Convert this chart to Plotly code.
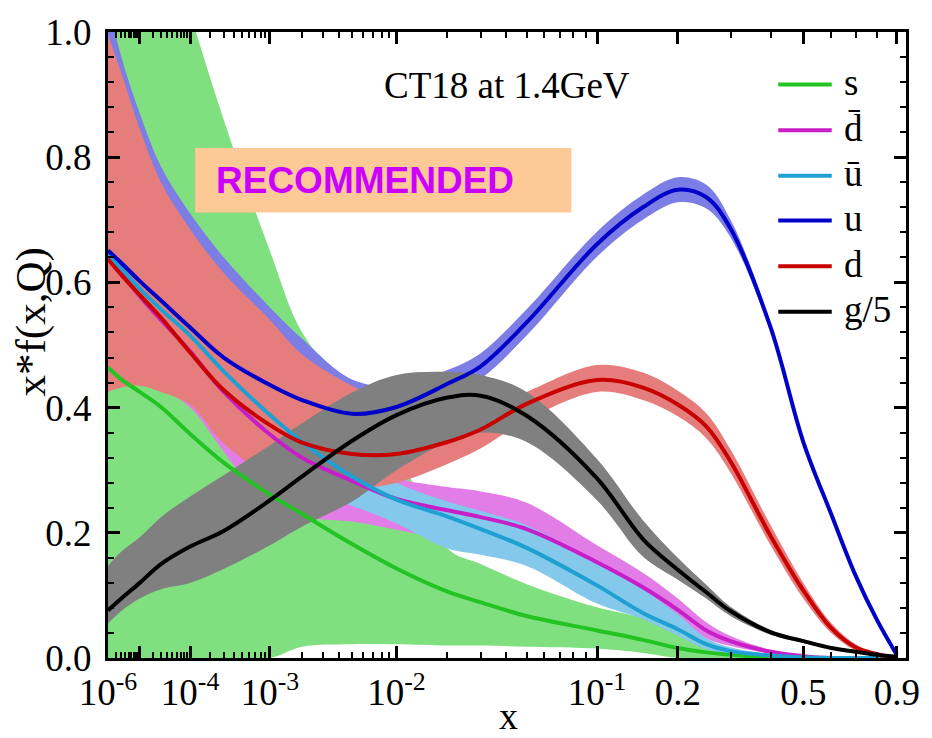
import numpy as np
import plotly.graph_objects as go

# ---------------- data ----------------
x_pts = [1e-6, 3e-6, 1e-5, 3e-5, 1e-4, 3e-4, 1e-3, 2e-3, 5e-3, 1e-2, 2e-2, 3e-2,
         5e-2, 0.1, 0.15, 0.2, 0.25, 0.3, 0.4, 0.5, 0.6, 0.7, 0.8, 0.9]

s_line = [0.464, 0.445, 0.425, 0.401, 0.358, 0.312, 0.261, 0.230, 0.182, 0.143, 0.106, 0.089,
          0.067, 0.044, 0.029, 0.016, 0.009, 0.005, 0.001, 0.0, 0.0, 0.0, 0.0, 0.0]
s_lo = [0.0, 0.0, 0.0, 0.0, 0.0, 0.0, 0.0, 0.018, 0.022, 0.022, 0.020, 0.020,
        0.018, 0.015, 0.008, 0.0, 0.0, 0.0, 0.0, 0.0, 0.0, 0.0, 0.0, 0.0]
s_hi = [1.45, 1.38, 1.29, 1.18, 1.03, 0.86, 0.65, 0.52, 0.42, 0.33, 0.175, 0.15,
        0.118, 0.081, 0.064, 0.045, 0.025, 0.010, 0.002, 0.0, 0.0, 0.0, 0.0, 0.0]

dbar_line = [0.640, 0.615, 0.578, 0.540, 0.490, 0.425, 0.357, 0.320, 0.283, 0.254, 0.236, 0.225,
             0.206, 0.153, 0.113, 0.077, 0.044, 0.027, 0.010, 0.003, 0.0, 0.0, 0.0, 0.0]
dbar_lo = [0.45, 0.45, 0.44, 0.43, 0.40, 0.33, 0.24, 0.225, 0.218, 0.205, 0.19, 0.183,
           0.165, 0.125, 0.091, 0.06, 0.031, 0.019, 0.007, 0.002, 0.0, 0.0, 0.0, 0.0]
dbar_hi = [0.70, 0.67, 0.63, 0.59, 0.54, 0.47, 0.40, 0.36, 0.315, 0.287, 0.273, 0.266,
           0.248, 0.18, 0.136, 0.095, 0.057, 0.035, 0.013, 0.004, 0.0, 0.0, 0.0, 0.0]

ubar_line = [0.645, 0.622, 0.590, 0.557, 0.515, 0.458, 0.388, 0.345, 0.290, 0.253, 0.226, 0.206,
             0.176, 0.116, 0.072, 0.046, 0.022, 0.011, 0.004, 0.001, 0.0, 0.0, 0.0, 0.0]
ubar_lo = [0.45, 0.45, 0.44, 0.43, 0.41, 0.36, 0.30, 0.27, 0.243, 0.215, 0.175, 0.165,
           0.147, 0.087, 0.062, 0.036, 0.014, 0.006, 0.002, 0.0, 0.0, 0.0, 0.0, 0.0]
ubar_hi = [0.69, 0.665, 0.63, 0.60, 0.555, 0.49, 0.42, 0.375, 0.32, 0.28, 0.25, 0.235,
           0.212, 0.152, 0.11, 0.07, 0.032, 0.017, 0.006, 0.002, 0.0, 0.0, 0.0, 0.0]

u_line = [0.651, 0.631, 0.602, 0.571, 0.528, 0.480, 0.436, 0.412, 0.390, 0.401, 0.438, 0.466,
          0.536, 0.661, 0.720, 0.748, 0.736, 0.686, 0.528, 0.345, 0.230, 0.132, 0.060, 0.005]
u_lo = [0.50, 0.50, 0.49, 0.47, 0.44, 0.40, 0.37, 0.36, 0.355, 0.375, 0.418, 0.446,
        0.515, 0.641, 0.700, 0.728, 0.718, 0.672, 0.521, 0.34, 0.227, 0.13, 0.059, 0.004]
u_hi = [1.05, 0.96, 0.87, 0.785, 0.71, 0.64, 0.56, 0.51, 0.445, 0.435, 0.46, 0.487,
        0.557, 0.681, 0.740, 0.768, 0.756, 0.70, 0.535, 0.35, 0.233, 0.134, 0.061, 0.006]

d_line = [0.637, 0.612, 0.580, 0.544, 0.488, 0.428, 0.372, 0.344, 0.326, 0.326, 0.345, 0.365,
          0.406, 0.444, 0.432, 0.405, 0.370, 0.314, 0.195, 0.108, 0.048, 0.017, 0.006, 0.0]
d_lo = [0.425, 0.432, 0.435, 0.425, 0.405, 0.343, 0.29, 0.275, 0.27, 0.28, 0.31, 0.335,
        0.38, 0.425, 0.412, 0.386, 0.351, 0.296, 0.18, 0.095, 0.04, 0.012, 0.003, 0.0]
d_hi = [0.995, 0.935, 0.845, 0.76, 0.685, 0.615, 0.54, 0.485, 0.435, 0.405, 0.385, 0.392,
        0.425, 0.468, 0.456, 0.427, 0.391, 0.333, 0.212, 0.12, 0.056, 0.022, 0.008, 0.0]

g_line = [0.076, 0.095, 0.120, 0.150, 0.178, 0.203, 0.252, 0.290, 0.347, 0.388, 0.416, 0.419,
          0.387, 0.287, 0.190, 0.141, 0.105, 0.075, 0.041, 0.027, 0.016, 0.010, 0.005, 0.002]
g_lo = [0.055, 0.075, 0.095, 0.11, 0.12, 0.142, 0.18, 0.21, 0.25, 0.30, 0.345, 0.36,
        0.345, 0.252, 0.162, 0.125, 0.095, 0.067, 0.037, 0.024, 0.014, 0.008, 0.004, 0.001]
g_hi = [0.147, 0.17, 0.193, 0.225, 0.258, 0.292, 0.34, 0.375, 0.424, 0.452, 0.457, 0.452,
        0.425, 0.318, 0.22, 0.16, 0.117, 0.082, 0.045, 0.030, 0.018, 0.011, 0.006, 0.002]

series_names = ["s", "d\u0304", "u\u0304", "u", "d", "g/5"]
line_colors = ["#22c322", "#c81ec8", "#1ea0d2", "#0000c8", "#c80000", "#000000"]
band_colors = ["#80e080", "#e27ce6", "#84c8ec", "#7d7de6", "#e67d7d", "#808080"]

major_x = [1e-6, 1e-5, 1e-4, 1e-3, 1e-2, 0.1, 0.2, 0.5, 0.9]
major_text = ["10<sup>-6</sup>", "", "10<sup>-4</sup>", "10<sup>-3</sup>", "10<sup>-2</sup>",
              "10<sup>-1</sup>", "0.2", "0.5", "0.9"]
minor_x = [k * 10.0 ** e for e in range(-6, -1) for k in range(2, 10)] + [0.3, 0.4, 0.6, 0.7, 0.8]
x_limits = [1e-6, 0.95]
y_ticks = [0.0, 0.2, 0.4, 0.6, 0.8, 1.0]


# x axis uses an x^0.2 scale (as in the CT18 figure)
def T(v):
    return np.asarray(v, dtype=float) ** 0.2


xt = T(x_pts)
lines = [s_line, dbar_line, ubar_line, u_line, d_line, g_line]
los = [s_lo, dbar_lo, ubar_lo, u_lo, d_lo, g_lo]
his = [s_hi, dbar_hi, ubar_hi, u_hi, d_hi, g_hi]

fig = go.Figure()
SM = 1.0
for name, lo, hi, bc in zip(series_names, los, his, band_colors):
    fig.add_trace(go.Scatter(x=xt, y=lo, mode="lines", showlegend=False, hoverinfo="skip",
                             line=dict(color="rgba(0,0,0,0)", width=0, shape="spline", smoothing=SM)))
    fig.add_trace(go.Scatter(x=xt, y=hi, mode="lines", showlegend=False, hoverinfo="skip",
                             fill="tonexty", fillcolor=bc,
                             line=dict(color="rgba(0,0,0,0)", width=0, shape="spline", smoothing=SM)))
for name, ln, lc in zip(series_names, lines, line_colors):
    fig.add_trace(go.Scatter(x=xt, y=ln, mode="lines", name=name, showlegend=False,
                             line=dict(color=lc, width=4, shape="spline", smoothing=SM)))

# plot-area geometry (pixels) for the overlays
L, R, TOP, BOT = 108, 914, 27, 658


def px(X):
    return (X - L) / (R - L)


def py(Y):
    return (BOT - Y) / (BOT - TOP)


serif = "Liberation Serif"
shapes = []
annotations = []

# legend drawn manually (long line samples like the original)
leg_y = [80, 126, 172, 217, 263, 309]
for name, lc, Y in zip(series_names, line_colors, leg_y):
    shapes.append(dict(type="line", xref="paper", yref="paper", x0=px(785), x1=px(839),
                       y0=py(Y), y1=py(Y), line=dict(color=lc, width=4)))
    annotations.append(dict(text=name, xref="paper", yref="paper", x=px(849), y=py(Y - 2),
                            xanchor="left", yanchor="middle", showarrow=False,
                            font=dict(family=serif, size=37, color="black")))

# RECOMMENDED box
shapes.append(dict(type="rect", xref="paper", yref="paper", x0=px(196), x1=px(576),
                   y0=py(209), y1=py(144), fillcolor="#fdc997", line=dict(width=0), layer="above"))
annotations.append(dict(text="<b>RECOMMENDED</b>", xref="paper", yref="paper", x=px(215), y=py(177),
                        xanchor="left", yanchor="middle", showarrow=False,
                        font=dict(family="Liberation Sans", size=37, color="#cc00ff")))

annotations.append(dict(text="CT18 at 1.4GeV", xref="paper", yref="paper", x=px(511), y=py(81),
                        xanchor="center", yanchor="middle", showarrow=False,
                        font=dict(family=serif, size=37, color="black")))
annotations.append(dict(text="x*f(x,Q)", xref="paper", yref="paper", x=px(30), y=py(319),
                        xanchor="center", yanchor="middle", showarrow=False, textangle=-90,
                        font=dict(family=serif, size=43, color="black")))
annotations.append(dict(text="x", xref="paper", yref="paper", x=px(513), y=py(716),
                        xanchor="center", yanchor="middle", showarrow=False,
                        font=dict(family=serif, size=38, color="black")))

fig.update_layout(
    width=932, height=738,
    margin=dict(l=L, r=932 - R, t=TOP, b=738 - BOT),
    paper_bgcolor="white", plot_bgcolor="white",
    font=dict(family=serif, size=36, color="black"),
    shapes=shapes, annotations=annotations, showlegend=False,
)
fig.update_xaxes(
    range=[float(T(x_limits[0])), float(T(x_limits[1]))],
    tickmode="array", tickvals=T(major_x), ticktext=major_text,
    ticks="inside", ticklen=12, tickwidth=3, tickcolor="black",
    showline=True, linewidth=3, linecolor="black", mirror="allticks",
    showgrid=False, zeroline=False,
    tickfont=dict(family=serif, size=37, color="black"),
    minor=dict(tickmode="array", tickvals=T(minor_x), ticks="inside", ticklen=6,
               tickwidth=2, tickcolor="black", showgrid=False),
)
fig.update_yaxes(
    range=[0, 1.0], tickmode="array", tickvals=y_ticks, tickformat=".1f",
    ticks="inside", ticklen=12, tickwidth=3, tickcolor="black",
    showline=True, linewidth=3, linecolor="black", mirror="allticks",
    showgrid=False, zeroline=False, ticklabelstandoff=6,
    tickfont=dict(family=serif, size=37, color="black"),
    minor=dict(dtick=0.04, ticks="inside", ticklen=6, tickwidth=2, tickcolor="black", showgrid=False),
)

fig.write_html("out.html")
